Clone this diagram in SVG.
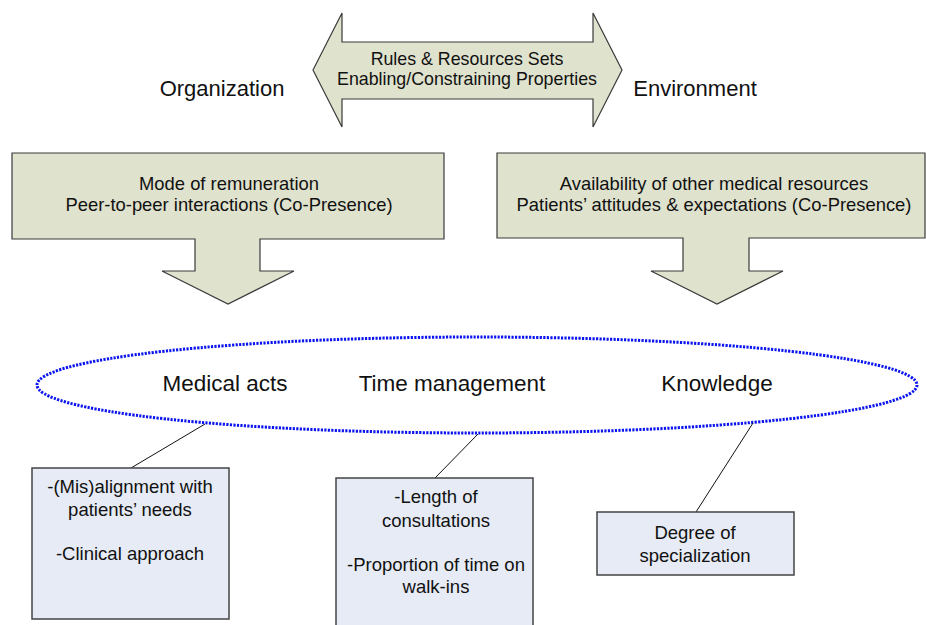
<svg xmlns="http://www.w3.org/2000/svg" width="926" height="625" viewBox="0 0 926 625">
<style>
  text { font-family: "Liberation Sans", Arial, sans-serif; fill: #111; text-anchor: middle; }
  .green { fill: #dfe2cd; stroke: #3a3a3a; stroke-width: 1.2; }
  .blue { fill: #e6ebf5; stroke: #444; stroke-width: 1.5; }
  .conn { stroke: #111; stroke-width: 1; fill: none; }
  .tr { font-size: 17.8px; }
  .tg { font-size: 18.4px; }
  .tb { font-size: 18.5px; }
  .tl { font-size: 22px; }
  .te { font-size: 22.5px; }
</style>
<rect width="926" height="625" fill="#fff"/>
<g id="rules">
  <polygon class="green" points="313,70 342,13 342,42 593,42 593,13 622,70 593,127 593,99 342,99 342,127"/>
  <text class="tr" x="467" y="65">Rules &amp; Resources Sets</text>
  <text class="tr" x="467" y="85">Enabling/Constraining Properties</text>
</g>
<g id="organization-label">
  <text class="tl" x="222" y="96">Organization</text>
</g>
<g id="environment-label">
  <text class="tl" x="695" y="96">Environment</text>
</g>
<g id="organization-arrow">
  <polygon class="green" points="12,153 444,153 444,239 260,239 260,271 294,271 228,304 162,271 195,271 195,239 12,239"/>
  <text class="tg" x="229" y="190">Mode of remuneration</text>
  <text class="tg" x="229" y="211">Peer-to-peer interactions (Co-Presence)</text>
</g>
<g id="environment-arrow">
  <polygon class="green" points="497,153 925,153 925,238 749,238 749,271 783,271 717,304 651,271 683,271 683,238 497,238"/>
  <text class="tg" x="714" y="190">Availability of other medical resources</text>
  <text class="tg" x="714" y="211">Patients’ attitudes &amp; expectations (Co-Presence)</text>
</g>
<g id="practice">
  <ellipse cx="477" cy="385" rx="440" ry="48" fill="none" stroke="#0a14f0" stroke-width="3" stroke-dasharray="2.2 1.3"/>
  <text class="te" x="225" y="391">Medical acts</text>
  <text class="te" x="452" y="391">Time management</text>
  <text class="te" x="717" y="391">Knowledge</text>
</g>
<g id="connectors">
  <line class="conn" x1="205" y1="424" x2="131" y2="468"/>
  <line class="conn" x1="478" y1="434" x2="435" y2="478"/>
  <line class="conn" x1="753" y1="423" x2="696" y2="512"/>
</g>
<g id="medical-acts-box">
  <rect class="blue" x="32" y="468" width="197" height="151"/>
  <text class="tb" x="130" y="493">-(Mis)alignment with</text>
  <text class="tb" x="130" y="516">patients’ needs</text>
  <text class="tb" x="130" y="560">-Clinical approach</text>
</g>
<g id="time-management-box">
  <rect class="blue" x="336" y="478" width="197" height="160"/>
  <text class="tb" x="436" y="503">-Length of</text>
  <text class="tb" x="436" y="527">consultations</text>
  <text class="tb" x="436" y="571">-Proportion of time on</text>
  <text class="tb" x="436" y="593">walk-ins</text>
</g>
<g id="knowledge-box">
  <rect class="blue" x="597" y="512" width="197" height="63"/>
  <text class="tb" x="695" y="539">Degree of</text>
  <text class="tb" x="695" y="562">specialization</text>
</g>
</svg>
